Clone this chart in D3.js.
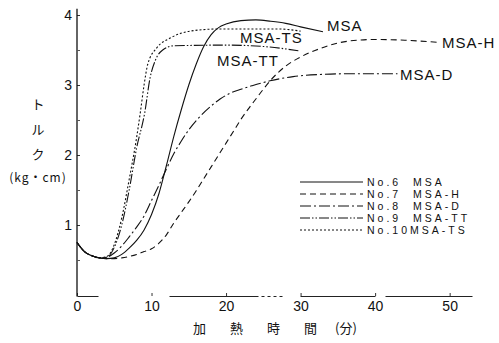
<!DOCTYPE html>
<html><head><meta charset="utf-8">
<script src="https://cdn.jsdelivr.net/npm/d3@7"></script>
<style>
body{margin:0;background:#fff;}
svg{display:block;}
.cl{font-family:"Liberation Sans",Arial,sans-serif;font-size:15px;letter-spacing:1px;fill:#111;}
.lg{font-family:"Liberation Sans",Arial,sans-serif;font-size:10.5px;letter-spacing:3px;fill:#111;}
.tk text{font-family:"Liberation Sans Narrow","Liberation Sans",Arial,sans-serif;font-size:14px;fill:#111;}
.jp{font-family:"Noto Sans CJK JP",sans-serif;fill:#111;}
</style></head>
<body><svg id="c" width="499" height="343"></svg>
<script>
// time (min)
const tMSA = [0,1,2,3,4,5,6,7,8,9,10,11,12,13,14,15,16,17,18,19,20,22,24,26,28,30,33];
const vMSA = [0.75,0.62,0.56,0.53,0.52,0.53,0.58,0.67,0.78,0.93,1.15,1.45,1.85,2.27,2.65,3.0,3.3,3.55,3.72,3.82,3.87,3.92,3.93,3.91,3.88,3.83,3.76];
const tH = [0,1,2,3,4,5,6,7,8,9,10,11,12,13,14,15,16,17,18,19,20,21,22,23,24,25,26,28,30,32.6,35,37.6,40,44,48.3];
const vH = [0.75,0.62,0.56,0.53,0.52,0.52,0.53,0.55,0.58,0.62,0.66,0.74,0.86,1.03,1.18,1.33,1.49,1.66,1.83,2.0,2.17,2.34,2.51,2.66,2.8,2.94,3.07,3.27,3.4,3.52,3.6,3.64,3.65,3.64,3.61];
const tD = [0,1,2,3,4,5,6,7,8,9,10,11,12,13,14,15,16.5,18,19.2,20.5,22,23.5,25.9,29,32.6,36,43];
const vD = [0.75,0.62,0.56,0.53,0.54,0.6,0.7,0.83,0.97,1.13,1.35,1.57,1.8,2.02,2.2,2.36,2.55,2.7,2.8,2.88,2.94,2.99,3.06,3.12,3.15,3.16,3.16];
const tTT = [0,1,2,3,4,5,6,7,8,9.1,9.8,10.5,11.5,13,20,25,29.7];
const vTT = [0.75,0.62,0.56,0.53,0.54,0.68,1.0,1.5,2.1,2.61,3.1,3.35,3.5,3.56,3.57,3.55,3.49];
const tTS = [0,1,2,3,4,5,6,7,8,8.5,9,9.5,10.7,12.5,15.2,19,27,30];
const vTS = [0.75,0.62,0.56,0.53,0.55,0.72,1.1,1.65,2.25,2.61,3.0,3.3,3.53,3.67,3.77,3.8,3.8,3.77];

const seriesNames = ["MSA","MSA-H","MSA-D","MSA-TT","MSA-TS"];
const legendLabels = ["No.6  MSA","No.7  MSA-H","No.8  MSA-D","No.9  MSA-TT","No.10MSA-TS"];
const xTicks = [0,10,20,30,40,50];
const yTicks = [1,2,3,4];
const yMinor = [0.5,1.5,2.5,3.5];
const yLabelChars = ["ト","ル","ク"];
const yUnit = "(kg・cm)";
const xTitle = ["加","熱","時","間","(分)"];

const dashes = {"MSA":null,"MSA-H":"6,4","MSA-D":"11,3,2,3","MSA-TT":"10,2,1.5,2,1.5,2","MSA-TS":"2,2"};
const seriesData = [
  {name:"MSA", t:tMSA, v:vMSA},
  {name:"MSA-H", t:tH, v:vH},
  {name:"MSA-D", t:tD, v:vD},
  {name:"MSA-TT", t:tTT, v:vTT},
  {name:"MSA-TS", t:tTS, v:vTS}
];

const svg = d3.select("#c");
const x = d3.scaleLinear().domain([0,53]).range([77,472]);
const y = d3.scaleLinear().domain([0,4]).range([295,15]);

// axes
const gx = svg.append("g").attr("class","tk").attr("transform","translate(0,296)")
  .call(d3.axisBottom(x).tickValues(xTicks).tickSizeInner(-3).tickSizeOuter(0).tickPadding(5));
gx.select(".domain").attr("stroke","#222").attr("stroke-dasharray","21,71,89,3,3,3,3,3,3,3,3,18,75,10,87");
gx.selectAll(".tick line").attr("stroke","#333");
gx.selectAll(".tick text").attr("fill","#111");

const gy = svg.append("g").attr("class","tk").attr("transform","translate(77,0)")
  .call(d3.axisLeft(y).tickValues(yTicks).tickFormat(d3.format("d")).tickSizeInner(-3).tickSizeOuter(0).tickPadding(5));
gy.select(".domain").remove();
gy.append("line").attr("x1",0).attr("x2",0).attr("y1",y(4.09)).attr("y2",y(-0.02)).attr("stroke","#111").attr("stroke-width",1.3);
gy.selectAll(".tick line").attr("stroke","#333");
svg.append("g").attr("transform","translate(77,0)")
  .call(d3.axisLeft(y).tickValues(yMinor).tickFormat("").tickSizeInner(-3).tickSizeOuter(0))
  .call(g=>g.select(".domain").remove())
  .selectAll(".tick line").attr("stroke","#555");

// lines
const line = d3.line().x(d=>x(d[0])).y(d=>y(d[1])).curve(d3.curveMonotoneX);
seriesData.forEach(s=>{
  const pts = s.t.map((t,i)=>[t,s.v[i]]);
  svg.append("path").datum(pts).attr("d",line).attr("fill","none")
    .attr("stroke","#111").attr("stroke-width",1.1)
    .attr("stroke-dasharray",dashes[s.name]);
});

// curve labels
const lblPos = {"MSA":[327,26,"start"],"MSA-TS":[240,38,"start"],"MSA-TT":[217,61,"start"],"MSA-H":[442,43,"start"],"MSA-D":[400,75,"start"]};
seriesNames.forEach(n=>{
  const p = lblPos[n];
  svg.append("text").attr("class","cl").attr("x",p[0]).attr("y",p[1]).attr("dy","0.36em").attr("text-anchor",p[2]).text(n);
});

// legend
const lg = svg.append("g").attr("transform","translate(300,182)");
seriesNames.forEach((n,i)=>{
  const row = lg.append("g").attr("transform",`translate(0,${i*12})`);
  row.append("line").attr("x1",0).attr("x2",63).attr("stroke","#111").attr("stroke-width",1)
    .attr("stroke-dasharray",dashes[n]);
  row.append("text").attr("class","lg").attr("x",67).attr("dy","0.36em").attr("xml:space","preserve").text(legendLabels[i]);
});

// y title
yLabelChars.forEach((c,i)=>{
  svg.append("text").attr("class","jp").attr("x",38).attr("y",[104,129,154][i]).attr("dy","0.36em")
    .attr("text-anchor","middle").attr("font-size",13).text(c);
});
svg.append("text").attr("class","jp").attr("x",38).attr("y",178).attr("dy","0.36em")
  .attr("text-anchor","middle").attr("font-size",12).attr("letter-spacing",1).text(yUnit);

// x title
const xt = svg.append("text").attr("class","jp").attr("x",193).attr("y",333).attr("font-size",13);
xTitle.forEach((c,i)=>{
  xt.append("tspan").attr("dx", i===0?0:(i<4?24:18)).text(c);
});
</script></body></html>
